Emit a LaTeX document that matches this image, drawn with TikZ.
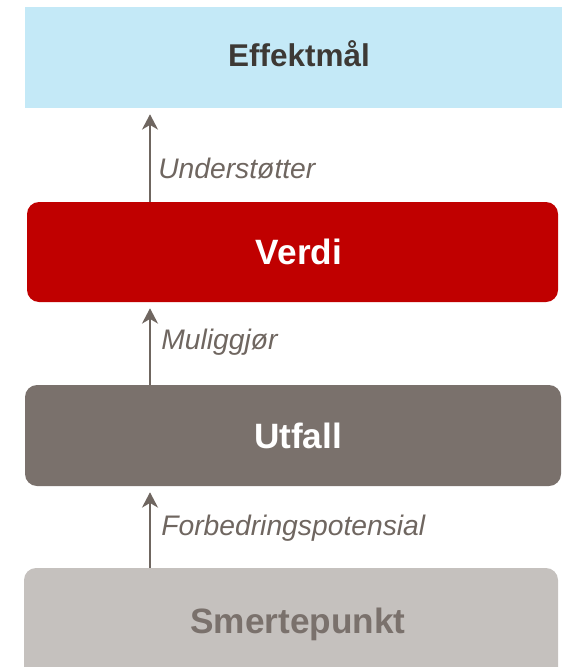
\documentclass[tikz,border=0pt]{standalone}
\usepackage{fontspec}
\setmainfont{Liberation Sans}
\usetikzlibrary{arrows.meta,fit}
\definecolor{effblue}{HTML}{C4E9F7}
\definecolor{effdark}{HTML}{3D3935}
\definecolor{verdired}{HTML}{C00000}
\definecolor{utfallgray}{HTML}{7A716C}
\definecolor{smertegray}{HTML}{C5C1BE}
\definecolor{arrgray}{HTML}{6F6660}
\tikzset{
	box/.style={inner sep=0pt, rounded corners=9pt},
	boxtext/.style={anchor=base, inner sep=0pt, font=\bfseries\fontsize{26.4}{30}\selectfont},
	lab/.style={anchor=base west, inner sep=0pt, text=arrgray, font=\itshape\fontsize{21.2}{25}\selectfont},
	up/.style={arrgray, line width=1.5pt, -{Stealth[length=11.5pt,width=12pt,inset=3.5pt]}, shorten >=4.5pt},
}

\begin{document}
\begin{tikzpicture}[x=0.75pt,y=-0.75pt]
	\useasboundingbox (0,0) rectangle (561,667);

	\node[box, fill=effblue, rounded corners=0pt, fit={(25,7) (575,108)}] (eff) {};
	\node[box, fill=verdired, fit={(27,202) (558,302)}] (verdi) {};
	\node[box, fill=utfallgray, fit={(25,385) (561,486)}] (utfall) {};
	\node[box, fill=smertegray, fit={(24,568) (558,690)}] (smerte) {};

	\node[boxtext, text=effdark, font=\bfseries\fontsize{23.6}{28}\selectfont] (efftxt) at (299,67) {Effektmål};
	\node[boxtext, text=white] (verditxt) at (299,264) {Verdi};
	\node[boxtext, text=white] (utfalltxt) at (298,448) {Utfall};
	\node[boxtext, text=utfallgray] (smertetxt) at (298,633) {Smertepunkt};

	\coordinate (ax) at (150,0);
	\draw[up] (verdi.north -| ax) -- (eff.south -| ax);
	\draw[up] (utfall.north -| ax) -- (verdi.south -| ax);
	\draw[up] (smerte.north -| ax) -- (utfall.south -| ax);

	\node[lab] (understotter) at (158,178) {Understøtter};
	\node[lab] (muliggjor) at (161,349) {Muliggjør};
	\node[lab] (forbedring) at (161,535) {Forbedringspotensial};
\end{tikzpicture}
\end{document}
